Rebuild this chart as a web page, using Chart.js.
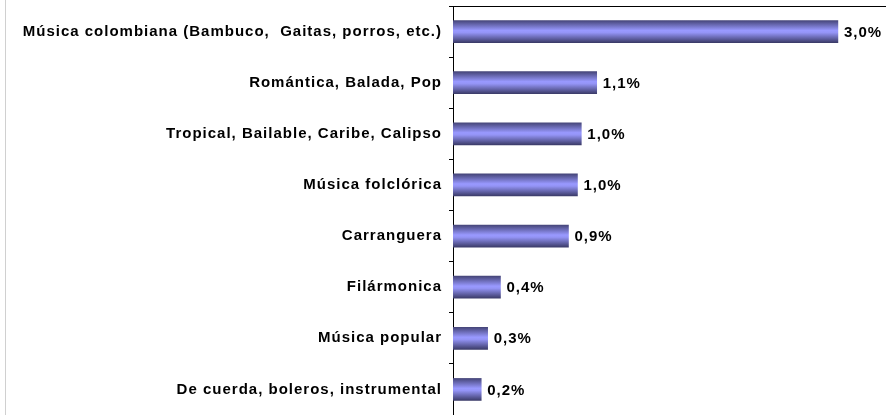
<!DOCTYPE html>
<html>
<head>
<meta charset="utf-8">
<script src="https://cdn.jsdelivr.net/npm/chart.js@4/dist/chart.umd.min.js"></script>
<style>
  html, body { margin: 0; padding: 0; background: #fff; }
  #wrap { width: 886px; height: 415px; position: relative; }
</style>
</head>
<body>
<div id="wrap"><canvas id="musicChart" width="886" height="415"></canvas></div>
<script>
// categories, top to bottom
const categories = [
    "Música colombiana (Bambuco,  Gaitas, porros, etc.)",
    "Romántica, Balada, Pop",
    "Tropical, Bailable, Caribe, Calipso",
    "Música folclórica",
    "Carranguera",
    "Filármonica",
    "Música popular",
    "De cuerda, boleros, instrumental"
];
// percent values
const shares = [3.0, 1.12, 1.0, 0.97, 0.9, 0.37, 0.27, 0.22];
// printed labels
const shareLabels = ["3,0%", "1,1%", "1,0%", "1,0%", "0,9%", "0,4%", "0,3%", "0,2%"];

const LABEL_FONT = "bold 15px 'Liberation Sans', Arial, sans-serif";

function barGradient(context) {
    const chart = context.chart;
    if (!chart.chartArea) return '#9999ff';
    const yc = chart.scales.y.getPixelForValue(context.dataIndex);
    const g = chart.ctx.createLinearGradient(0, yc - 11, 0, yc + 11);
    g.addColorStop(0, '#46467a');
    g.addColorStop(0.45, '#9999ff');
    g.addColorStop(0.55, '#9494f6');
    g.addColorStop(1, '#3c3c6a');
    return g;
}

// left frame line, wider text spacing, value labels
const extras = {
    id: 'extras',
    beforeDraw(chart) {
        const c = chart.ctx;
        c.letterSpacing = '1px';
        c.save();
        c.fillStyle = '#d0d0d0';
        c.fillRect(5, 0, 1, chart.height);
        c.restore();
    },
    afterDatasetsDraw(chart) {
        const c = chart.ctx;
        const meta = chart.getDatasetMeta(0);
        c.save();
        c.font = LABEL_FONT;
        c.fillStyle = '#000';
        c.textAlign = 'left';
        c.textBaseline = 'middle';
        meta.data.forEach((bar, i) => {
            c.fillText(shareLabels[i], bar.x + 6, bar.y + 1);
        });
        c.restore();
    }
};

const ctx = document.getElementById('musicChart').getContext('2d');
new Chart(ctx, {
    type: 'bar',
    data: {
        labels: categories,
        datasets: [{
            data: shares,
            backgroundColor: barGradient,
            borderWidth: 0,
            barThickness: 22
        }]
    },
    options: {
        indexAxis: 'y',
        responsive: false,
        animation: false,
        layout: { padding: { left: 0, top: 6, right: 0, bottom: 0 } },
        plugins: { legend: { display: false }, tooltip: { enabled: false } },
        scales: {
            x: {
                position: 'top',
                min: 0,
                max: 3.375,
                ticks: { display: false },
                grid: { display: false },
                border: { display: true, color: '#000', width: 1 },
                afterFit(scale) { scale.height = 0; }
            },
            y: {
                grid: {
                    display: true,
                    drawOnChartArea: false,
                    drawTicks: true,
                    tickLength: 4,
                    color: '#000',
                    offset: true
                },
                border: { display: true, color: '#000', width: 1 },
                ticks: {
                    color: '#000',
                    padding: 7,
                    font: { family: "'Liberation Sans', Arial, sans-serif", size: 15, weight: 'bold' }
                },
                afterFit(scale) {
                    scale.width = 453;
                    scale.paddingTop = 0;
                    scale.paddingBottom = 0;
                }
            }
        }
    },
    plugins: [extras]
});
</script>
</body>
</html>
